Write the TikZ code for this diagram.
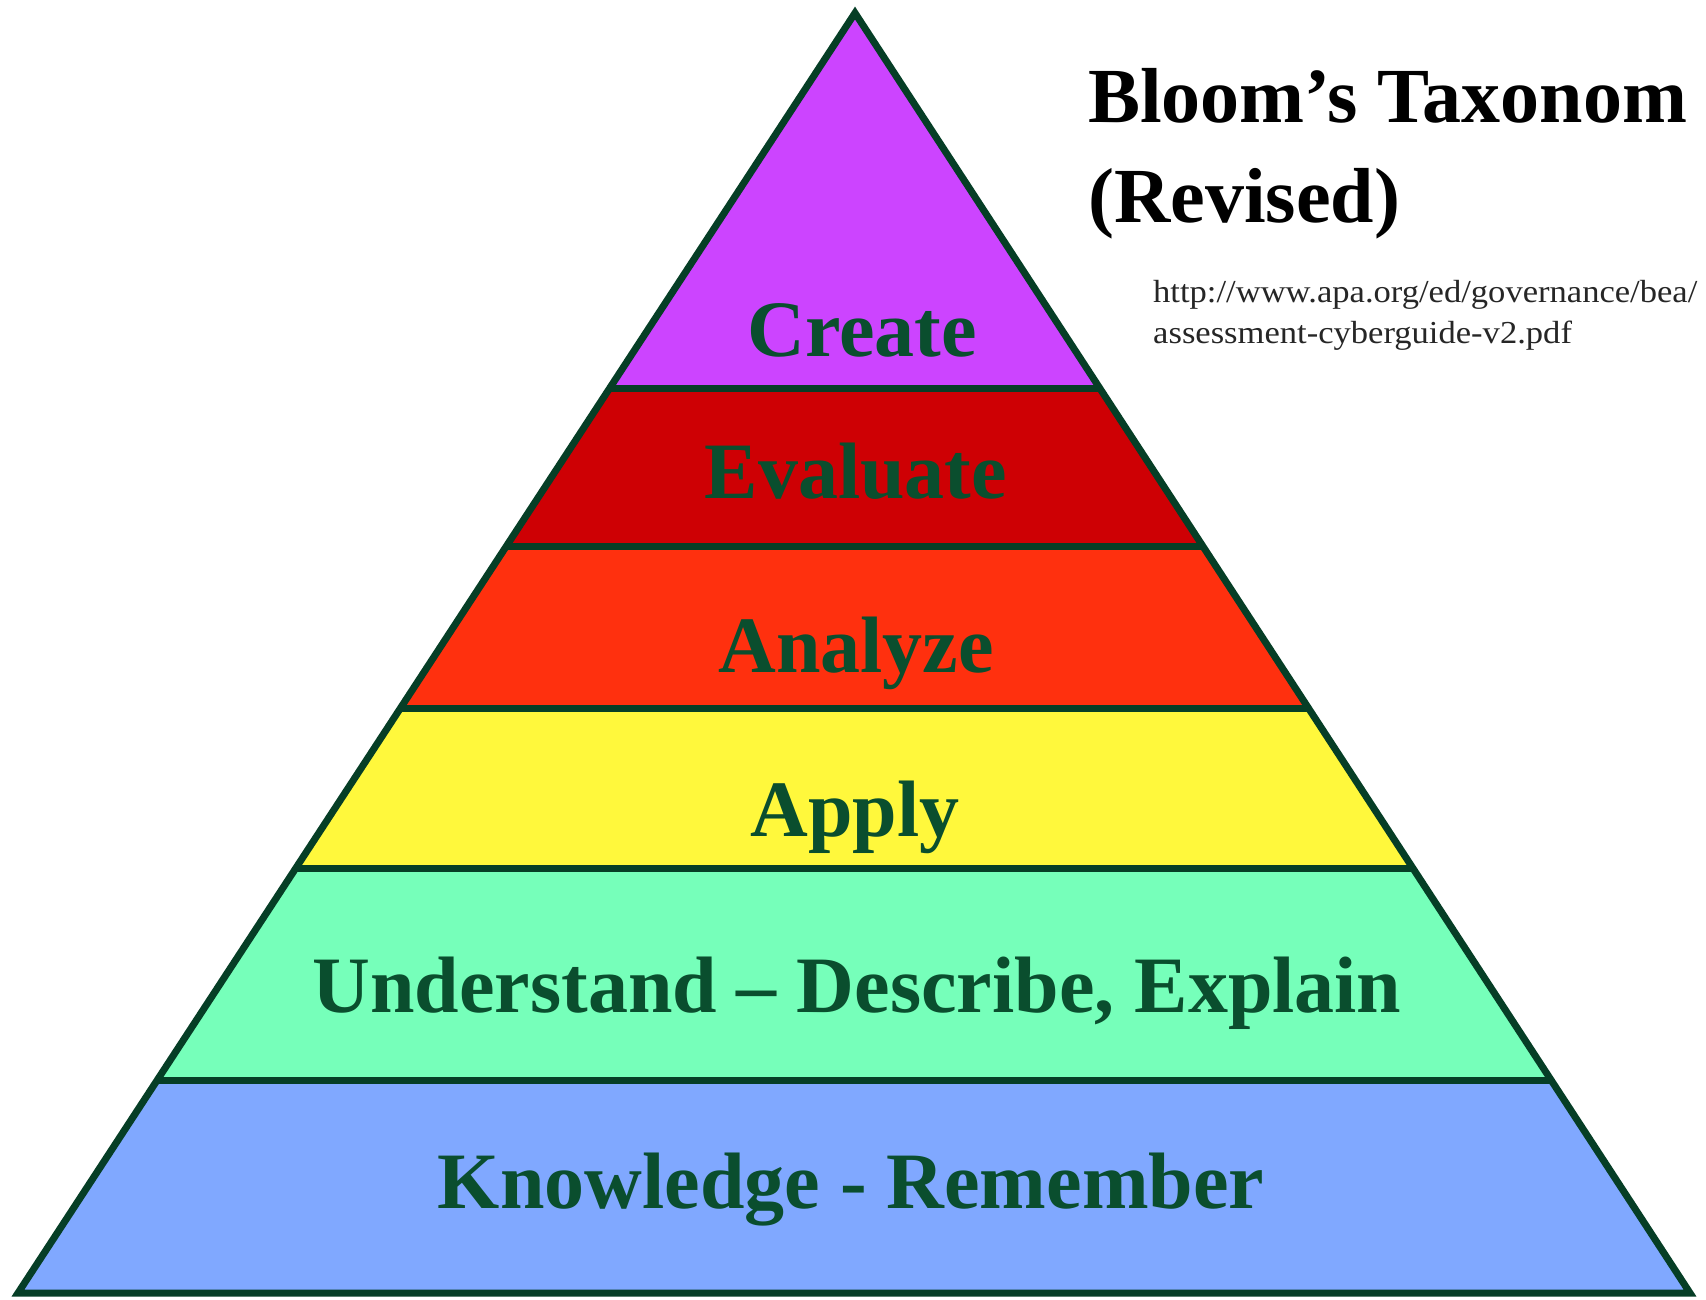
\documentclass[tikz,border=0pt]{standalone}
\usepackage{fontspec}
\setmainfont{Liberation Serif}
\newfontfamily\urlfont[FakeStretch=1.08]{Liberation Serif}
\definecolor{edge}{RGB}{6,62,38}
\definecolor{lbl}{RGB}{10,78,46}
\definecolor{cCreate}{RGB}{204,68,255}
\definecolor{cEval}{RGB}{206,0,4}
\definecolor{cAnal}{RGB}{255,48,14}
\definecolor{cApply}{RGB}{255,248,60}
\definecolor{cUnder}{RGB}{118,255,186}
\definecolor{cKnow}{RGB}{128,168,255}
\tikzset{
  divider/.style={draw=edge, line width=7pt},
  outline/.style={draw=edge, line width=7pt, line join=miter},
  lvl/.style={anchor=base, inner sep=0pt, text=lbl, font=\bfseries\fontsize{80}{90}\selectfont},
  ttl/.style={anchor=base west, inner sep=0pt, text=black, font=\bfseries\fontsize{78}{90}\selectfont},
  url/.style={anchor=base west, inner sep=0pt, text=black!85, font=\urlfont\fontsize{32}{38}\selectfont}
}
\begin{document}
\begin{tikzpicture}[x=1pt, y=-1pt]
\useasboundingbox (0,0) rectangle (1706,1300);
\clip (0,0) rectangle (1706,1300);
\fill[white] (0,0) rectangle (1706,1300);
\coordinate (apex) at (855,13);
\coordinate (bl) at (18,1293);
\coordinate (br) at (1690,1293);
\begin{scope}
  \clip (apex) -- (bl) -- (br) -- cycle;
  \fill[cCreate] (0,0) rectangle (1706,388);
  \fill[cEval]   (0,388) rectangle (1706,546);
  \fill[cAnal]   (0,546) rectangle (1706,708);
  \fill[cApply]  (0,708) rectangle (1706,868);
  \fill[cUnder]  (0,868) rectangle (1706,1080);
  \fill[cKnow]   (0,1080) rectangle (1706,1300);
  \foreach \yy in {388,546,708,868,1080}
    \draw[divider] (0,\yy) -- (1706,\yy);
\end{scope}
\draw[outline] (apex) -- (bl) -- (br) -- cycle;
\node[lvl] (create) at (862,356) {Create};
\node[lvl] (evaluate) at (856,498) {Evaluate};
\node[lvl] (analyze) at (856,672) {Analyze};
\node[lvl] (apply) at (855,836) {Apply};
\node[lvl] (understand) at (857,1012) {Understand -- Describe, Explain};
\node[lvl] (knowledge) at (851,1208) {Knowledge - Remember};
\node[ttl] (title1) at (1088,123) {Bloom’s Taxonom};
\node[ttl] (title2) at (1088,223) {(Revised)};
\node[url] (url1) at (1153,302) {http://www.apa.org/ed/governance/bea/};
\node[url] (url2) at (1153,343) {assessment-cyberguide-v2.pdf};
\end{tikzpicture}
\end{document}
